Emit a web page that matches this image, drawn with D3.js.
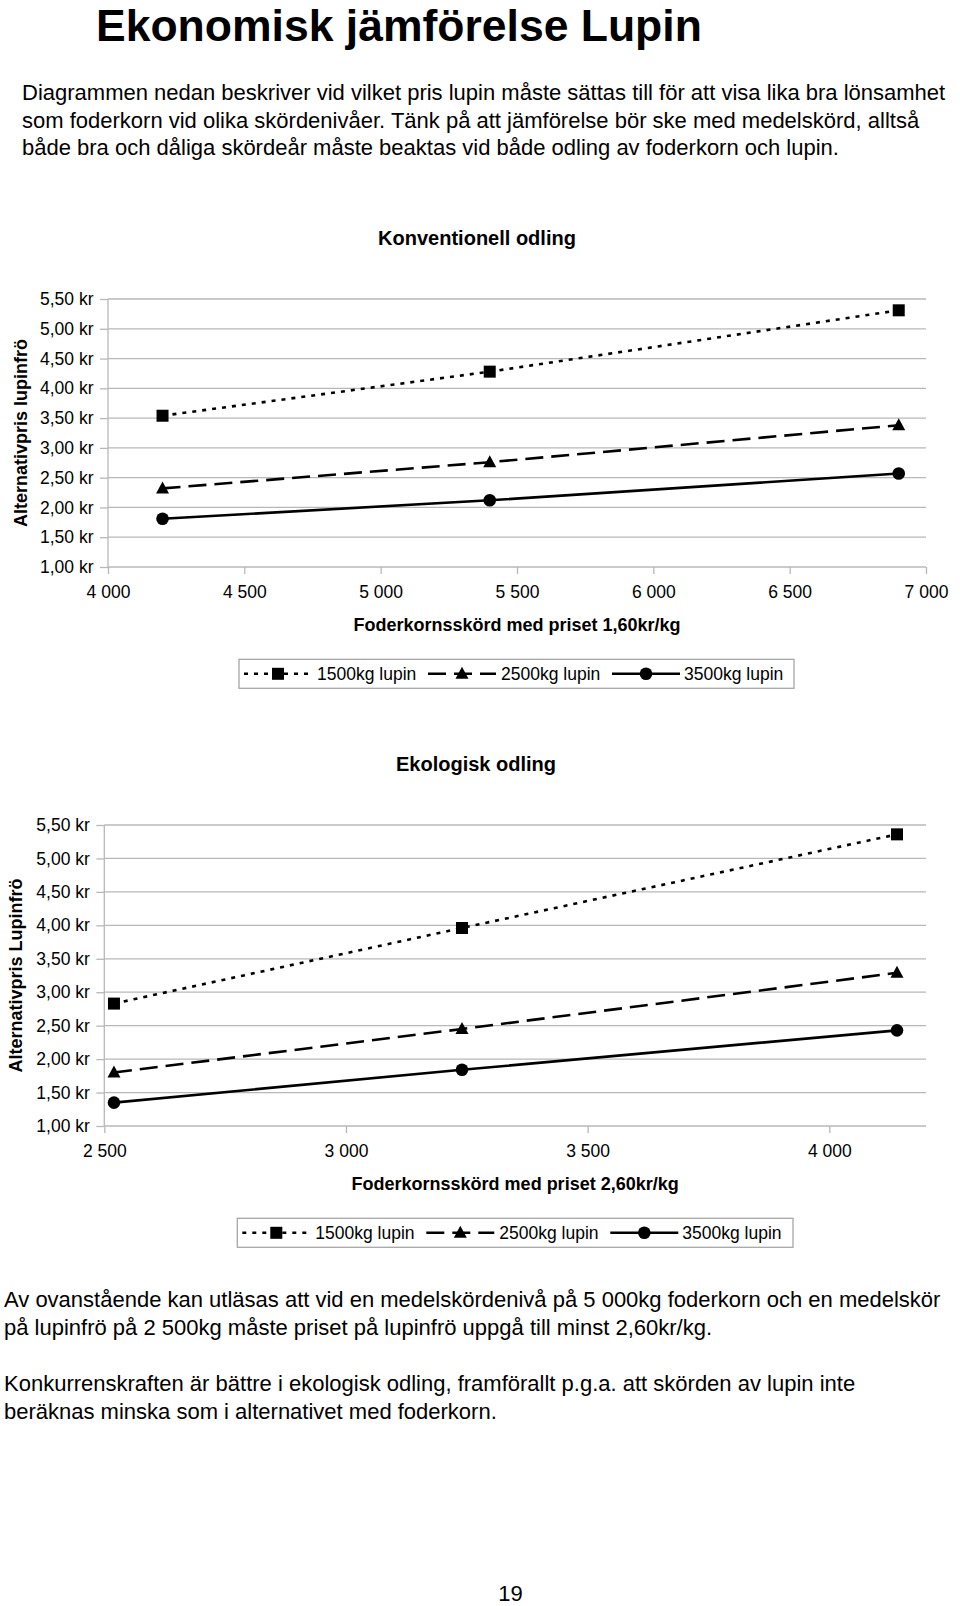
<!DOCTYPE html>
<html><head><meta charset="utf-8">
<script src="https://cdn.jsdelivr.net/npm/d3@7"></script>
<style>
body{margin:0;background:#fff}
svg{display:block;font-family:"Liberation Sans",Arial,Helvetica,sans-serif}
</style>
</head><body>
<svg id="page" width="960" height="1606"></svg>
<script>
// ---------- data ----------
const seriesNames = ["1500kg lupin", "2500kg lupin", "3500kg lupin"];

const convX = [4200, 5400, 6900];
const conv1500 = [3.54, 4.28, 5.31];
const conv2500 = [2.32, 2.76, 3.38];
const conv3500 = [1.81, 2.12, 2.57];

const ekoX = [2520, 3240, 4140];
const eko1500 = [2.83, 3.96, 5.36];
const eko2500 = [1.80, 2.45, 3.29];
const eko3500 = [1.35, 1.84, 2.43];

const yTicks = [1.0, 1.5, 2.0, 2.5, 3.0, 3.5, 4.0, 4.5, 5.0, 5.5];
const convXTicks = [4000, 4500, 5000, 5500, 6000, 6500, 7000];
const ekoXTicks = [2500, 3000, 3500, 4000];

const titleText = "Ekonomisk jämförelse Lupin";
const introLines = [
  "Diagrammen nedan beskriver vid vilket pris lupin måste sättas till för att visa lika bra lönsamhet",
  "som foderkorn vid olika skördenivåer. Tänk på att jämförelse bör ske med medelskörd, alltså",
  "både bra och dåliga skördeår måste beaktas vid både odling av foderkorn och lupin."
];
const outroLines1 = [
  "Av ovanstående kan utläsas att vid en medelskördenivå på 5 000kg foderkorn och en medelskör",
  "på lupinfrö på 2 500kg måste priset på lupinfrö uppgå till minst 2,60kr/kg."
];
const outroLines2 = [
  "Konkurrenskraften är bättre i ekologisk odling, framförallt p.g.a. att skörden av lupin inte",
  "beräknas minska som i alternativet med foderkorn."
];
const pageNumber = "19";

// ---------- drawing ----------
const svg = d3.select("#page");
const GRID = "#b8b8b8";

svg.append("text").attr("x", 96).attr("y", 40.5)
  .attr("font-size", 44.5).attr("font-weight", "bold").text(titleText);

function para(lines, x, ys, size) {
  lines.forEach((l, i) => {
    svg.append("text").attr("x", x).attr("y", ys[i]).attr("font-size", size).attr("fill", "#000").text(l);
  });
}
para(introLines, 22, [100, 127.7, 155.3], 22);
para(outroLines1, 4, [1307.3, 1335], 22);
para(outroLines2, 4, [1390.7, 1418.7], 22);
svg.append("text").attr("x", 510.5).attr("y", 1600.5).attr("font-size", 22)
  .attr("text-anchor", "middle").text(pageNumber);

const styles = [
  { dash: "4,6", marker: "square" },
  { dash: "18,8", marker: "triangle" },
  { dash: null, marker: "circle" }
];

function drawMarker(g, type, cx, cy) {
  if (type === "square") {
    g.append("rect").attr("x", cx - 6).attr("y", cy - 6).attr("width", 12).attr("height", 12).attr("fill", "#000");
  } else if (type === "triangle") {
    g.append("path").attr("d", `M${cx},${cy - 7}L${cx + 6.5},${cy + 5}L${cx - 6.5},${cy + 5}Z`).attr("fill", "#000");
  } else {
    g.append("circle").attr("cx", cx).attr("cy", cy).attr("r", 6.3).attr("fill", "#000");
  }
}

const fmtY = d => d3.format(".2f")(d).replace(".", ",") + " kr";
const fmtX = d => d3.format(",")(d).replace(/,/g, "\u00a0");

function drawChart(o) {
  const x = d3.scaleLinear().domain(o.xDomain).range([o.left, o.right]);
  const y = d3.scaleLinear().domain([1, 5.5]).range([o.bottom, o.top]);
  const g = svg.append("g");

  g.append("text").attr("x", o.titleX).attr("y", o.titleY).attr("text-anchor", "middle")
    .attr("font-size", 20).attr("font-weight", "bold").text(o.title);

  g.append("g").selectAll("line").data(yTicks.slice(1)).join("line")
    .attr("x1", o.left).attr("x2", o.right)
    .attr("y1", d => y(d)).attr("y2", d => y(d))
    .attr("stroke", GRID).attr("stroke-width", 1.3);

  const ya = g.append("g").attr("transform", `translate(${o.left},0)`)
    .call(d3.axisLeft(y).tickValues(yTicks).tickFormat(fmtY).tickSize(8).tickPadding(6.5));
  ya.select(".domain").attr("stroke", GRID).attr("stroke-width", 1.3).attr("d", `M0,${o.top}V${o.bottom}`);
  ya.selectAll(".tick line").attr("stroke", GRID).attr("stroke-width", 1.3);
  ya.selectAll(".tick text").attr("font-size", 17.5).attr("fill", "#000")
    .attr("font-family", '"Liberation Sans",Arial,sans-serif');

  const xa = g.append("g").attr("transform", `translate(0,${o.bottom})`)
    .call(d3.axisBottom(x).tickValues(o.xTicks).tickFormat(fmtX).tickSize(7));
  xa.select(".domain").attr("stroke", GRID).attr("stroke-width", 1.3).attr("d", `M${o.left},0H${o.right}`);
  xa.selectAll(".tick line").attr("stroke", GRID).attr("stroke-width", 1.3);
  xa.selectAll(".tick text").attr("font-size", 17.5).attr("fill", "#000").attr("y", 31).attr("dy", 0)
    .attr("font-family", '"Liberation Sans",Arial,sans-serif');

  g.append("text").attr("x", (o.left + o.right) / 2).attr("y", o.bottom + 63.8)
    .attr("text-anchor", "middle").attr("font-size", 18).attr("font-weight", "bold").text(o.xTitle);
  g.append("text").attr("transform", `translate(${o.yTitleX},${(o.top + o.bottom) / 2}) rotate(-90)`)
    .attr("text-anchor", "middle").attr("font-size", 18).attr("font-weight", "bold").text(o.yTitle);

  const line = d3.line().x(d => x(d[0])).y(d => y(d[1]));
  o.series.forEach((vals, i) => {
    const pts = o.xs.map((xv, j) => [xv, vals[j]]);
    const p = g.append("path").datum(pts).attr("d", line).attr("fill", "none")
      .attr("stroke", "#000").attr("stroke-width", 2.6);
    if (styles[i].dash) p.attr("stroke-dasharray", styles[i].dash);
    pts.forEach(d => drawMarker(g, styles[i].marker, x(d[0]), y(d[1])));
  });

  const L = o.legend;
  const lg = svg.append("g");
  lg.append("rect").attr("x", L.x).attr("y", L.y).attr("width", L.w).attr("height", L.h)
    .attr("fill", "#fff").attr("stroke", "#a6a6a6").attr("stroke-width", 1.3);
  const cy = L.y + L.h / 2;
  const sampleOff = [5, 189, 373];
  const textOff = [78, 262, 445];
  seriesNames.forEach((name, i) => {
    const sx = L.x + sampleOff[i];
    const s = lg.append("line").attr("x1", sx).attr("x2", sx + 68).attr("y1", cy).attr("y2", cy)
      .attr("stroke", "#000").attr("stroke-width", 2.6);
    if (styles[i].dash) s.attr("stroke-dasharray", styles[i].dash);
    drawMarker(lg, styles[i].marker, sx + 34, cy);
    lg.append("text").attr("x", L.x + textOff[i]).attr("y", cy + 6.3).attr("font-size", 17.5).text(name);
  });
}

drawChart({
  title: "Konventionell odling", titleX: 477, titleY: 245,
  left: 108, right: 926, top: 299, bottom: 567,
  xDomain: [4000, 7000], xTicks: convXTicks,
  xs: convX, series: [conv1500, conv2500, conv3500],
  xTitle: "Foderkornsskörd med priset 1,60kr/kg",
  yTitle: "Alternativpris lupinfrö", yTitleX: 26.5,
  legend: { x: 239, y: 659.3, w: 555, h: 29 }
});

drawChart({
  title: "Ekologisk odling", titleX: 476, titleY: 770.7,
  left: 104.3, right: 926, top: 825, bottom: 1126,
  xDomain: [2500, 4200], xTicks: ekoXTicks,
  xs: ekoX, series: [eko1500, eko2500, eko3500],
  xTitle: "Foderkornsskörd med priset 2,60kr/kg",
  yTitle: "Alternativpris Lupinfrö", yTitleX: 22,
  legend: { x: 237.3, y: 1218.3, w: 555.7, h: 29 }
});
</script>
</body></html>
